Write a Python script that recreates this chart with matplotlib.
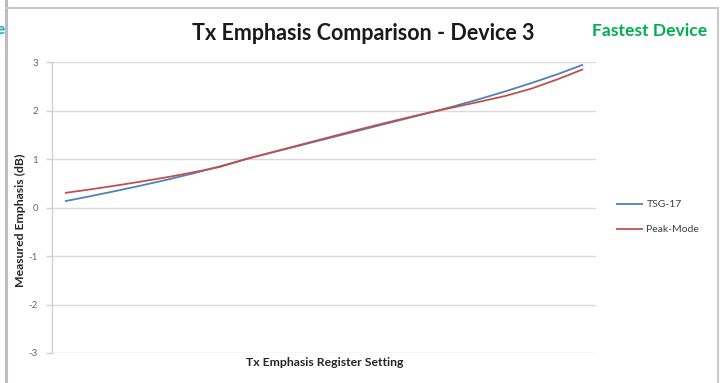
import matplotlib
matplotlib.use("Agg")
import matplotlib.pyplot as plt
from matplotlib.lines import Line2D

plt.rcParams['font.family'] = ['Lato', 'DejaVu Sans']

# Register settings (category axis, unlabeled) and measured emphasis in dB
settings = list(range(21))
tsg17 = [0.13, 0.235, 0.345, 0.46, 0.58, 0.71, 0.85, 1.00, 1.135, 1.27, 1.405,
         1.54, 1.675, 1.81, 1.945, 2.085, 2.235, 2.395, 2.565, 2.745, 2.945]
peak_mode = [0.30, 0.375, 0.455, 0.54, 0.63, 0.73, 0.84, 1.00, 1.14, 1.28, 1.42,
             1.56, 1.695, 1.825, 1.95, 2.065, 2.18, 2.30, 2.45, 2.64, 2.85]
y_ticks = [-3, -2, -1, 0, 1, 2, 3]

W, H = 726, 383
fig = plt.figure(figsize=(W / 100, H / 100), dpi=100)
fig.patch.set_facecolor('white')

def fx(px):
    return px / W

def fy(py):
    return 1 - py / H

# Outer chart frame
frame_col = '#C8C8C8'
fig.add_artist(Line2D([fx(5.5), fx(5.5)], [0, 1], color='#BDBDBD', lw=2.2,
                      transform=fig.transFigure))
fig.add_artist(Line2D([fx(6), fx(718)], [fy(7.5), fy(7.5)], color=frame_col, lw=1.5,
                      transform=fig.transFigure))
fig.add_artist(Line2D([fx(718), fx(718)], [fy(7.5), 0], color=frame_col, lw=1.5,
                      transform=fig.transFigure))

ax = fig.add_axes([fx(52), fy(353), fx(596) - fx(52), fy(62) - fy(353)])
n = len(settings)
ax.set_xlim(-0.5, n - 0.5)
ax.set_ylim(-3, 3)
ax.set_yticks(y_ticks)
ax.set_yticklabels([str(t) for t in y_ticks])
ax.set_xticks([])
ax.grid(axis='y', color='#D9D9D9', lw=1.0)
ax.set_axisbelow(True)
for s in ['top', 'right', 'bottom']:
    ax.spines[s].set_visible(False)
ax.spines['left'].set_color('#D0D0D0')
ax.spines['left'].set_linewidth(1.0)
ax.tick_params(axis='y', colors='#D0D0D0', labelcolor='#666666', labelsize=7,
               length=4, width=1.0, pad=6)

l1, = ax.plot(settings, tsg17, color='#4F81BD', lw=1.3, solid_capstyle='butt')
l2, = ax.plot(settings, peak_mode, color='#C0504D', lw=1.3, solid_capstyle='butt')

ax.set_ylabel('Measured Emphasis (dB)', fontsize=8.8, fontweight='bold',
              color='#262626')
ax.yaxis.label.set_va('center')
ax.yaxis.set_label_coords((20 - 52) / 544, (353 - 220) / 291)
ax.set_xlabel('Tx Emphasis Register Setting', fontsize=8.8, fontweight='bold',
              color='#262626')
ax.xaxis.label.set_va('center')
ax.xaxis.set_label_coords((325 - 52) / 544, (353 - 363) / 291)

fig.text(fx(363), fy(33), 'Tx Emphasis Comparison - Device 3', fontsize=15.5,
         fontweight='bold', color='#1a1a1a', ha='center', va='center')
fig.text(fx(650), fy(31), 'Fastest Device', fontsize=12.6, fontweight='bold',
         color='#00B050', ha='center', va='center')
fig.text(fx(-3.5), fy(30), 'e', fontsize=11, fontweight='bold',
         color='#00B0C8', ha='left', va='center')

leg = fig.legend([l1, l2], ['TSG-17', 'Peak-Mode'], loc='upper left',
                 bbox_to_anchor=(fx(612), fy(196)), frameon=False, fontsize=7.5,
                 handlelength=2.6, handletextpad=0.3, labelspacing=1.5,
                 borderaxespad=0)
for t in leg.get_texts():
    t.set_color('#404040')

fig.savefig('out.png', dpi=100, facecolor='white')
